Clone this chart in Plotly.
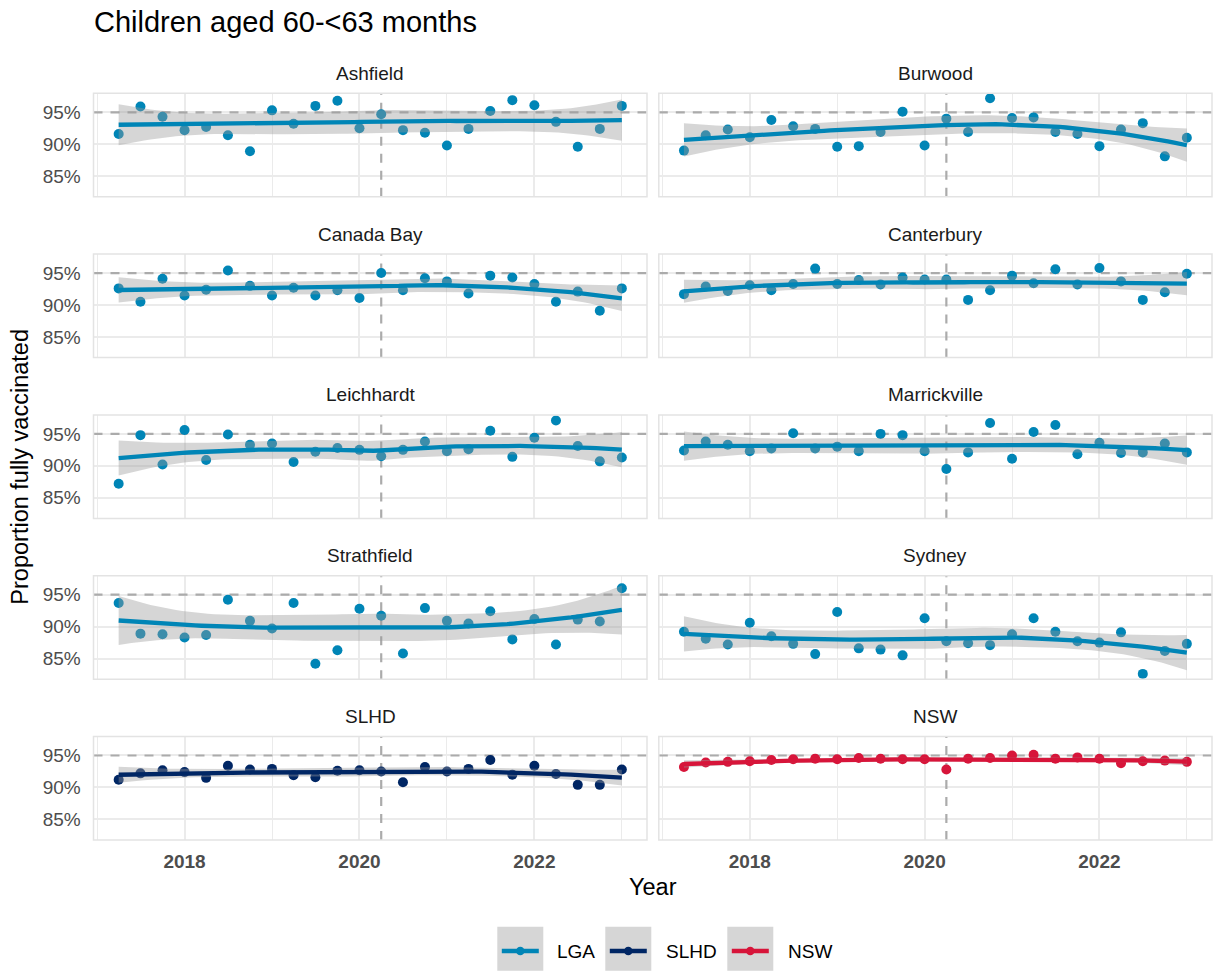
import numpy as np
import pandas as pd
import plotly.graph_objects as go

# ---------------------------------------------------------------------------
# Data: proportion of children aged 60-<63 months fully vaccinated, by quarter
# ---------------------------------------------------------------------------
quarter_dates = [f"{y}-{md}" for y in range(2017, 2023)
                 for md in ("03-31", "06-30", "09-30", "12-31")]

ashfield = [91.6, 95.9, 94.3, 92.2, 92.7, 91.4, 88.9, 95.3, 93.2, 96.0, 96.8, 92.5,
            94.7, 92.2, 91.8, 89.8, 92.4, 95.2, 96.9, 96.1, 93.5, 89.6, 92.4, 96.0]
burwood = [89.0, 91.4, 92.3, 91.1, 93.8, 92.8, 92.4, 89.6, 89.7, 91.9, 95.1, 89.8,
           94.0, 91.9, 97.2, 94.1, 94.2, 91.9, 91.6, 89.7, 92.3, 93.3, 88.1, 91.0]
canada_bay = [92.6, 90.5, 94.1, 91.5, 92.4, 95.4, 93.0, 91.5, 92.7, 91.5, 92.3, 91.1,
              95.0, 92.3, 94.2, 93.7, 91.8, 94.6, 94.3, 93.3, 90.5, 92.1, 89.1, 92.6]
canterbury = [91.7, 92.9, 92.2, 93.1, 92.3, 93.3, 95.7, 93.3, 93.9, 93.2, 94.3, 94.0,
              94.0, 90.8, 92.3, 94.6, 93.4, 95.6, 93.2, 95.8, 93.7, 90.8, 92.0, 94.9]
leichhardt = [87.2, 94.8, 90.2, 95.6, 90.9, 94.9, 93.3, 93.5, 90.6, 92.2, 92.8, 92.5,
              91.5, 92.5, 93.8, 92.3, 92.6, 95.5, 91.4, 94.4, 97.1, 93.1, 90.7, 91.3]
marrickville = [92.4, 93.8, 93.3, 92.3, 92.7, 95.1, 92.7, 93.0, 92.3, 95.0, 94.8, 92.3,
                89.5, 92.1, 96.7, 91.1, 95.3, 96.4, 91.8, 93.6, 92.0, 92.1, 93.5, 92.1]
strathfield = [93.7, 88.9, 88.8, 88.3, 88.7, 94.2, 90.9, 89.7, 93.7, 84.2, 86.3, 92.8,
               91.7, 85.8, 92.9, 90.9, 90.5, 92.4, 88.0, 91.2, 87.2, 91.1, 90.8, 96.0]
sydney = [89.2, 88.1, 87.2, 90.6, 88.5, 87.3, 85.7, 92.3, 86.6, 86.4, 85.5, 91.3,
          87.7, 87.4, 87.1, 88.8, 91.3, 89.2, 87.7, 87.5, 89.1, 82.6, 86.2, 87.3]
slhd = [91.2, 92.2, 92.7, 92.4, 91.5, 93.4, 92.8, 92.9, 91.9, 91.6, 92.6, 92.7,
        92.5, 90.8, 93.2, 92.5, 92.9, 94.3, 92.0, 93.4, 92.1, 90.4, 90.4, 92.8]
nsw = [93.2, 93.9, 94.0, 94.1, 94.3, 94.4, 94.5, 94.4, 94.6, 94.5, 94.4, 94.4,
       92.8, 94.5, 94.6, 95.0, 95.1, 94.5, 94.7, 94.5, 93.8, 94.1, 94.2, 94.0]

panel_names = ["Ashfield", "Burwood", "Canada Bay", "Canterbury", "Leichhardt",
               "Marrickville", "Strathfield", "Sydney", "SLHD", "NSW"]
panel_values = [ashfield, burwood, canada_bay, canterbury, leichhardt,
                marrickville, strathfield, sydney, slhd, nsw]
panel_groups = ["LGA"] * 8 + ["SLHD", "NSW"]

group_colors = {"LGA": "#0085B6", "SLHD": "#002664", "NSW": "#D7153A"}
legend_order = ["LGA", "SLHD", "NSW"]

target_pct = 95
covid_marker = "2020-03-31"
x_tick_years = [2018, 2020, 2022]
y_ticks = [85, 90, 95]
smooth_span = 1.0


# ---------------------------------------------------------------------------
# Helpers
# ---------------------------------------------------------------------------
def decimal_year(date_str):
    ts = pd.Timestamp(date_str)
    days = 366 if ts.is_leap_year else 365
    return ts.year + ts.dayofyear / days


def t_quantile_975(df):
    # Cornish-Fisher expansion of the Student-t quantile
    z = 1.959963984540054
    g1 = (z**3 + z) / 4
    g2 = (5 * z**5 + 16 * z**3 + 3 * z) / 96
    g3 = (3 * z**7 + 19 * z**5 + 17 * z**3 - 15 * z) / 384
    g4 = (79 * z**9 + 776 * z**7 + 1482 * z**5 - 1920 * z**3 - 945 * z) / 92160
    return z + g1 / df + g2 / df**2 + g3 / df**3 + g4 / df**4


def loess_smooth(t, v, grid, span=0.75, cell=0.2):
    """Local quadratic regression evaluated on kd-tree vertices and joined with
    cubic Hermite interpolation, plus a 95% confidence band."""
    t = np.asarray(t, float)
    v = np.asarray(v, float)
    n = len(t)
    q = min(int(np.floor(n * span)), n)
    fc = int(np.floor(n * span * cell))

    ts = np.sort(t)
    mu = 0.005 * (ts[-1] - ts[0])
    verts = {ts[0] - mu, ts[-1] + mu}

    def split(lo, hi):
        if hi - lo + 1 <= fc:
            return
        m = (lo + hi) // 2
        verts.add((ts[m] + ts[m + 1]) / 2)
        split(lo, m)
        split(m + 1, hi)

    split(0, n - 1)
    verts = np.array(sorted(verts))

    def local_rows(x0):
        d = np.abs(t - x0)
        h = np.sort(d)[q - 1]
        u = np.clip(d / h, 0, 1)
        w = (1 - u**3) ** 3
        B = np.column_stack([np.ones(n), t - x0, (t - x0) ** 2])
        A = B.T @ (w[:, None] * B)
        M = np.linalg.solve(A, (B * w[:, None]).T)
        return M[0], M[1]

    vals_rows, slope_rows = zip(*[local_rows(x0) for x0 in verts])
    vals_rows = np.array(vals_rows)
    slope_rows = np.array(slope_rows)

    def interp_rows(xs):
        out = []
        for x in xs:
            j = int(np.clip(np.searchsorted(verts, x, side="right") - 1, 0, len(verts) - 2))
            dx = verts[j + 1] - verts[j]
            s = (x - verts[j]) / dx
            h00 = 2 * s**3 - 3 * s**2 + 1
            h10 = s**3 - 2 * s**2 + s
            h01 = -2 * s**3 + 3 * s**2
            h11 = s**3 - s**2
            out.append(h00 * vals_rows[j] + h10 * dx * slope_rows[j]
                       + h01 * vals_rows[j + 1] + h11 * dx * slope_rows[j + 1])
        return np.array(out)

    L = interp_rows(t)
    G = interp_rows(grid)
    fit = G @ v
    R = np.eye(n) - L
    RR = R.T @ R
    d1 = np.trace(RR)
    d2 = np.trace(RR @ RR)
    sigma = np.sqrt(np.sum((R @ v) ** 2) / d1)
    se = sigma * np.sqrt(np.sum(G**2, axis=1))
    tq = t_quantile_975(d1**2 / d2)
    return fit, fit - tq * se, fit + tq * se


# ---------------------------------------------------------------------------
# Layout geometry (pixels)
# ---------------------------------------------------------------------------
W, H = 1224, 971
col_x = [(93.5, 647.0), (658.8, 1212.0)]
row_top = [93.3, 254.1, 414.9, 575.7, 736.5]
panel_h = 103.5

FONT = "Liberation Sans, Arial, sans-serif"
GRID = "#EBEBEB"
DASH_COL = "#ABABAB"
DASH = "9px,8px"


def px(x):
    return x / W


def py(y):
    return 1 - y / H


x_num = [decimal_year(d) for d in quarter_dates]
x_lo, x_hi = min(x_num), max(x_num)
x_pad = 0.05 * (x_hi - x_lo)
x_range = [x_lo - x_pad, x_hi + x_pad]
y_range = [81.77, 97.97]
grid_x = np.linspace(x_lo, x_hi, 80)
covid_x = decimal_year(covid_marker)

fig = go.Figure()
layout_axes = {}
shapes = []
annotations = []

for k, (name, vals, grp) in enumerate(zip(panel_names, panel_values, panel_groups)):
    r, c = divmod(k, 2)
    ax = "" if k == 0 else str(k + 1)
    xref, yref = f"x{ax}", f"y{ax}"
    color = group_colors[grp]

    # reference lines: 95% target and the March 2020 marker
    fig.add_trace(go.Scatter(x=x_range, y=[target_pct, target_pct], mode="lines",
                             xaxis=xref, yaxis=yref, showlegend=False, hoverinfo="skip",
                             line=dict(color=DASH_COL, width=2.2, dash=DASH)))
    fig.add_trace(go.Scatter(x=[covid_x, covid_x], y=y_range, mode="lines",
                             xaxis=xref, yaxis=yref, showlegend=False, hoverinfo="skip",
                             line=dict(color=DASH_COL, width=2.2, dash=DASH)))

    fit, lower, upper = loess_smooth(x_num, vals, grid_x, span=smooth_span)

    # observed points (drawn first so the confidence band tints them)
    fig.add_trace(go.Scatter(
        x=x_num, y=vals, mode="markers", xaxis=xref, yaxis=yref,
        marker=dict(color=color, size=10, line=dict(width=0)),
        showlegend=False, hoverinfo="x+y"))
    # confidence band
    fig.add_trace(go.Scatter(
        x=np.concatenate([grid_x, grid_x[::-1]]),
        y=np.concatenate([upper, lower[::-1]]),
        mode="lines", fill="toself", fillcolor="rgba(153,153,153,0.4)",
        line=dict(width=0), xaxis=xref, yaxis=yref,
        showlegend=False, hoverinfo="skip"))
    # smoothed trend
    fig.add_trace(go.Scatter(
        x=grid_x, y=fit, mode="lines", xaxis=xref, yaxis=yref,
        line=dict(color=color, width=4.3),
        showlegend=False, hoverinfo="skip"))

    x0, x1 = col_x[c]
    y0 = row_top[r]
    y1 = y0 + panel_h
    bottom = r == 4
    left = c == 0

    layout_axes[f"xaxis{ax}"] = dict(
        domain=[px(x0), px(x1)], anchor=yref, range=x_range,
        tickvals=x_tick_years,
        ticktext=[f"<b>{yr}</b>" for yr in x_tick_years],
        showticklabels=bottom, ticks="outside" if bottom else "",
        ticklen=4, tickcolor="rgba(0,0,0,0)",
        tickfont=dict(family=FONT, size=19, color="#4D4D4D"),
        showgrid=True, gridcolor=GRID, gridwidth=2.1,
        minor=dict(tickvals=[2017, 2019, 2021, 2023], showgrid=True,
                   gridcolor=GRID, gridwidth=1.3, ticks=""),
        zeroline=False, showline=False, automargin=False, fixedrange=True)
    layout_axes[f"yaxis{ax}"] = dict(
        domain=[py(y1), py(y0)], anchor=xref, range=y_range,
        tickvals=y_ticks, ticktext=[f"{v}%" for v in y_ticks],
        showticklabels=left, ticks="outside" if left else "",
        ticklen=8, tickcolor="rgba(0,0,0,0)",
        tickfont=dict(family=FONT, size=19, color="#4D4D4D"),
        showgrid=True, gridcolor=GRID, gridwidth=2.1,
        zeroline=False, showline=False, automargin=False, fixedrange=True)

    # panel border
    shapes.append(dict(type="rect", xref=f"{xref} domain", yref=f"{yref} domain",
                       x0=0, x1=1, y0=0, y1=1, layer="above",
                       line=dict(color="#E3E3E3", width=1.5)))
    # facet strip label
    annotations.append(dict(text=name, xref="paper", yref="paper",
                            x=px((x0 + x1) / 2), y=py(y0 - 20),
                            xanchor="center", yanchor="middle", showarrow=False,
                            font=dict(family=FONT, size=19, color="#1A1A1A")))

# titles
annotations.append(dict(text="Children aged 60-<63 months", xref="paper", yref="paper",
                        x=px(92), y=py(22), xanchor="left", yanchor="middle",
                        showarrow=False, font=dict(family=FONT, size=29, color="#000000")))
annotations.append(dict(text="Proportion fully vaccinated", xref="paper", yref="paper",
                        x=px(20), y=py((row_top[0] + row_top[-1] + panel_h) / 2),
                        textangle=-90, xanchor="center", yanchor="middle",
                        showarrow=False, font=dict(family=FONT, size=23.5, color="#000000")))
annotations.append(dict(text="Year", xref="paper", yref="paper",
                        x=px((col_x[0][0] + col_x[1][1]) / 2), y=py(887),
                        xanchor="center", yanchor="middle", showarrow=False,
                        font=dict(family=FONT, size=23.5, color="#000000")))

# legend: grey key boxes holding a line + point glyph
legend_box_left = [497.3, 605.3, 727.3]
legend_label_left = [555, 664, 786]
key_w, key_top, key_bottom, key_mid = 46, 926.7, 970.7, 951
for grp, bx, lx in zip(legend_order, legend_box_left, legend_label_left):
    col = group_colors[grp]
    shapes.append(dict(type="rect", xref="paper", yref="paper",
                       x0=px(bx), x1=px(bx + key_w), y0=py(key_bottom), y1=py(key_top),
                       fillcolor="#D6D6D6", line=dict(width=0), layer="above"))
    shapes.append(dict(type="line", xref="paper", yref="paper",
                       x0=px(bx + 4.5), x1=px(bx + key_w - 4.5),
                       y0=py(key_mid), y1=py(key_mid),
                       line=dict(color=col, width=4.6), layer="above"))
    cx = bx + key_w / 2
    shapes.append(dict(type="circle", xref="paper", yref="paper",
                       x0=px(cx - 4.3), x1=px(cx + 4.3),
                       y0=py(key_mid + 4.3), y1=py(key_mid - 4.3),
                       fillcolor=col, line=dict(width=0), layer="above"))
    annotations.append(dict(text=grp, xref="paper", yref="paper",
                            x=px(lx), y=py(key_mid), xanchor="left", yanchor="middle",
                            showarrow=False, font=dict(family=FONT, size=19, color="#000000")))

fig.update_layout(
    width=W, height=H, template="none",
    margin=dict(l=0, r=0, t=0, b=0, pad=0),
    paper_bgcolor="white", plot_bgcolor="white",
    showlegend=False, shapes=shapes, annotations=annotations,
    font=dict(family=FONT),
    **layout_axes)

fig.write_html("out.html")
